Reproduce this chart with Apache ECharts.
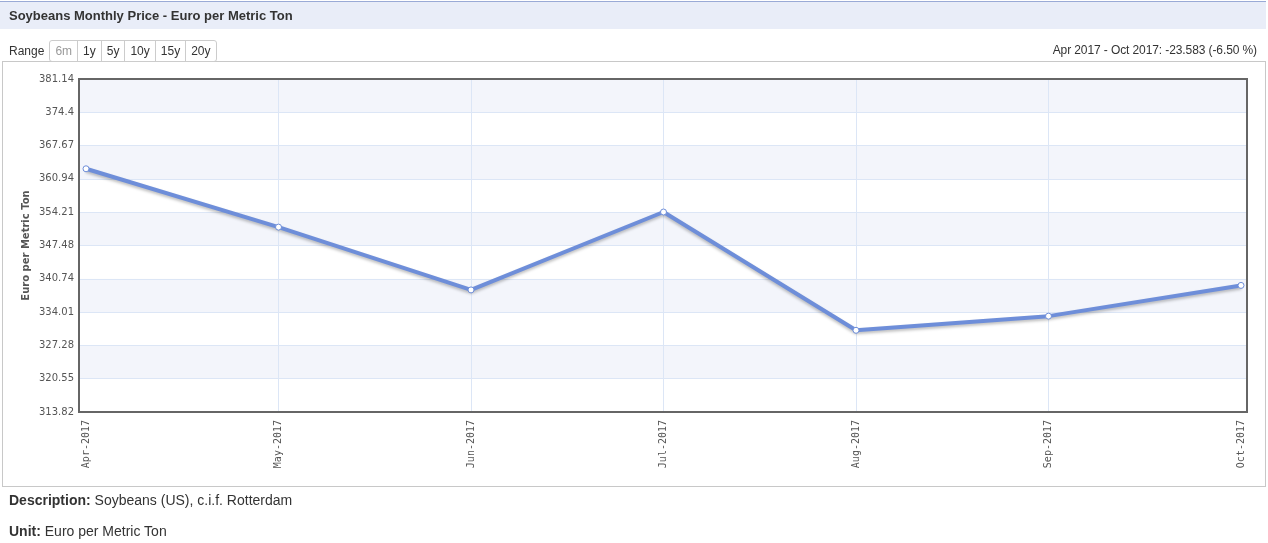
<!DOCTYPE html>
<html><head><meta charset="utf-8">
<script src="https://cdn.jsdelivr.net/npm/echarts@6/dist/echarts.min.js"></script>
<style>
html,body{margin:0;padding:0;width:1268px;height:543px;overflow:hidden;background:#fff;font-family:"Liberation Sans",Arial,sans-serif;}
#chart{position:absolute;left:0;top:0;width:1268px;height:543px;}
#box{position:absolute;left:2px;top:61px;width:1262px;height:424px;border:1px solid #c8c8c8;}
#titlebar{position:absolute;left:0;top:1px;width:1266px;height:27px;background:#e9edf8;border-top:1px solid #9aaad6;}
#titlebar span{position:absolute;left:9px;top:6px;font-size:13px;font-weight:bold;color:#333;}
#range{position:absolute;left:9px;top:40px;font-size:12px;color:#333;display:flex;align-items:center;}
#range .lbl{margin-right:5px;}
#range .btns{display:flex;border:1px solid #ccc;border-radius:3px;height:20px;}
#range .btns div{padding:0 5px;line-height:20px;border-left:1px solid #ccc;color:#333;}
#range .btns div:first-child{border-left:none;color:#999;}
#chg{position:absolute;right:11px;top:43px;font-size:12px;color:#333;letter-spacing:-0.1px;}
.desc{position:absolute;left:9px;font-size:14px;color:#333;}
</style></head>
<body>
<div id="box"></div>
<div id="chart"></div>
<div id="titlebar"><span>Soybeans Monthly Price - Euro per Metric Ton</span></div>
<div id="range"><span class="lbl">Range</span><div class="btns"><div>6m</div><div>1y</div><div>5y</div><div>10y</div><div>15y</div><div>20y</div></div></div>
<div id="chg">Apr 2017 - Oct 2017: -23.583 (-6.50 %)</div>
<div class="desc" style="top:492px"><b>Description:</b> Soybeans (US), c.i.f. Rotterdam</div>
<div class="desc" style="top:523px"><b>Unit:</b> Euro per Metric Ton</div>
<script>
const categories = ["Apr-2017","May-2017","Jun-2017","Jul-2017","Aug-2017","Sep-2017","Oct-2017"];
const prices = [362.99, 351.2, 338.5, 354.25, 330.34, 333.2, 339.41];
const yMin = 313.82, yMax = 381.14, yStep = 6.732;
const yTickLabels = ["313.82","320.55","327.28","334.01","340.74","347.48","354.21","360.94","367.67","374.4","381.14"];

const chart = echarts.init(document.getElementById('chart'));
chart.setOption({
  animation:false,
  grid:[
    {left:79, top:79, width:1168, height:333, show:true, borderColor:'#666', borderWidth:2, backgroundColor:'transparent', z:3},
    {left:86, top:79, width:1155, height:333}
  ],
  xAxis:[
    {gridIndex:0, type:'value', min:0, max:1, show:false},
    {gridIndex:1, type:'category', data:categories, boundaryGap:false,
      axisLine:{show:false}, axisTick:{show:false},
      axisLabel:{rotate:90, fontFamily:'DejaVu Sans Mono', fontSize:10, color:'#555', margin:8},
      splitLine:{show:true, interval:(i)=> i>0 && i<categories.length-1, lineStyle:{color:'#dce6f6', width:1}}}
  ],
  yAxis:[
    {gridIndex:0, type:'value', min:yMin, max:yMax, interval:yStep,
      axisLine:{show:false}, axisTick:{show:false},
      axisLabel:{fontFamily:'DejaVu Sans', fontSize:10, color:'#555', margin:5,
        formatter:(v)=>{const i=Math.round((v-yMin)/yStep);return yTickLabels[i]!==undefined?yTickLabels[i]:'';}},
      splitLine:{show:true, lineStyle:{color:'#dce6f6'}},
      splitArea:{show:true, areaStyle:{color:['#ffffff','#f3f5fb']}},
      name:'Euro per Metric Ton', nameLocation:'middle', nameGap:48, nameMoveOverlap:false,
      nameTextStyle:{fontFamily:'DejaVu Sans', fontSize:10, fontWeight:'bold', color:'#555'}},
    {gridIndex:1, type:'value', min:yMin, max:yMax, show:false}
  ],
  series:[{
    type:'line', xAxisIndex:1, yAxisIndex:1, data:prices,
    lineStyle:{color:'#6e8ed9', width:4, shadowColor:'rgba(0,0,0,0.25)', shadowBlur:3, shadowOffsetY:2},
    symbol:'circle', symbolSize:6, showSymbol:true,
    itemStyle:{color:'#ffffff', borderColor:'#6e8ed9', borderWidth:1},
    z:5
  }]
});
</script>
</body></html>
